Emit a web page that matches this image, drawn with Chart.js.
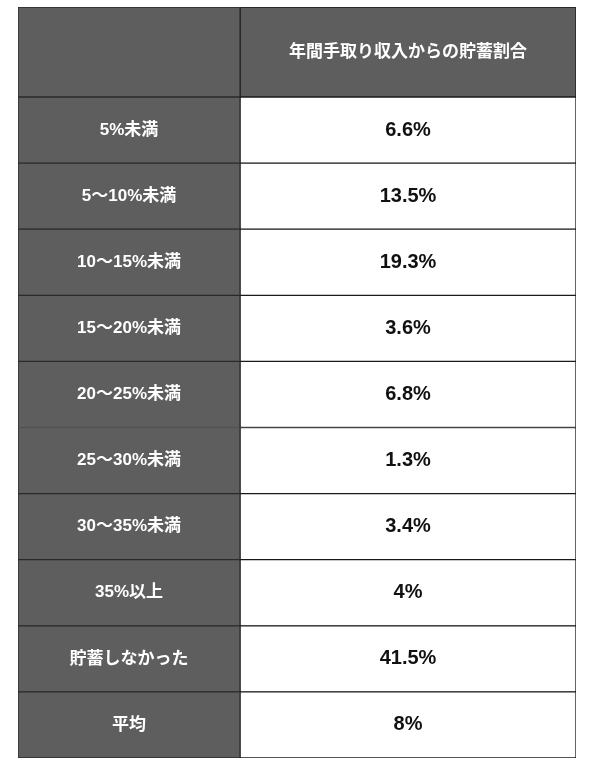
<!DOCTYPE html>
<html lang="ja">
<head>
<meta charset="UTF-8">
<script src="https://cdn.jsdelivr.net/npm/chart.js@4"></script>
<style>
  body { margin: 0; background: #fff; }
  #wrap { position: absolute; left: 18px; top: 7px; width: 558px; }
  .box { position: relative; width: 558px; }
</style>
</head>
<body>
<div id="wrap">
  <div class="box" style="height:90px"><canvas id="head"></canvas></div>
  <div class="box" style="height:661px"><canvas id="body"></canvas></div>
</div>
<script>
const headerLabels = [''];
const headerValues = ['年間手取り収入からの貯蓄割合'];
const categories = ['5%未満', '5～10%未満', '10～15%未満', '15～20%未満', '20～25%未満',
  '25～30%未満', '30～35%未満', '35%以上', '貯蓄しなかった', '平均'];
const values = ['6.6%', '13.5%', '19.3%', '3.6%', '6.8%', '1.3%', '3.4%', '4%', '41.5%', '8%'];

const split = 0.398;
const font = '"Liberation Sans", "Noto Sans CJK JP", sans-serif';

const textPlugin = {
  id: 'cellText',
  afterDatasetsDraw(chart, args, opts) {
    const ctx = chart.ctx;
    const x = chart.scales.x, y = chart.scales.y;
    ctx.save();
    ctx.textAlign = 'center';
    ctx.textBaseline = 'middle';
    opts.labels.forEach((lab, i) => {
      const py = y.getPixelForValue(i);
      ctx.fillStyle = '#ffffff';
      ctx.font = 'bold 17px ' + font;
      ctx.fillText(lab, x.getPixelForValue(split / 2), py);
      ctx.fillStyle = opts.rightColor;
      ctx.font = opts.rightFont;
      ctx.fillText(opts.values[i], x.getPixelForValue((split + 1) / 2), py);
    });
    ctx.restore();
  }
};

function makeTable(id, labels, vals, rightColor, rightFont, rightBg) {
  new Chart(document.getElementById(id), {
    type: 'bar',
    data: {
      labels: labels,
      datasets: [
        { data: labels.map(() => [0, split]), backgroundColor: '#5e5e5e',
          borderColor: '#2a2a2a', borderWidth: 1, borderSkipped: false },
        { data: labels.map(() => [split, 1]), backgroundColor: rightBg,
          borderColor: '#1a1a1a', borderWidth: 1, borderSkipped: false }
      ]
    },
    options: {
      indexAxis: 'y',
      responsive: true,
      maintainAspectRatio: false,
      animation: false,
      datasets: { bar: { barPercentage: 1, categoryPercentage: 1, grouped: false } },
      scales: {
        x: { display: false, min: 0, max: 1 },
        y: { display: false }
      },
      plugins: {
        legend: { display: false },
        tooltip: { enabled: false },
        cellText: { labels: labels, values: vals, rightColor: rightColor, rightFont: rightFont }
      }
    },
    plugins: [textPlugin]
  });
}

makeTable('head', headerLabels, headerValues, '#ffffff', 'bold 17px ' + font, '#5e5e5e');
makeTable('body', categories, values, '#111111', 'bold 20px ' + font, '#ffffff');
</script>
</body>
</html>
